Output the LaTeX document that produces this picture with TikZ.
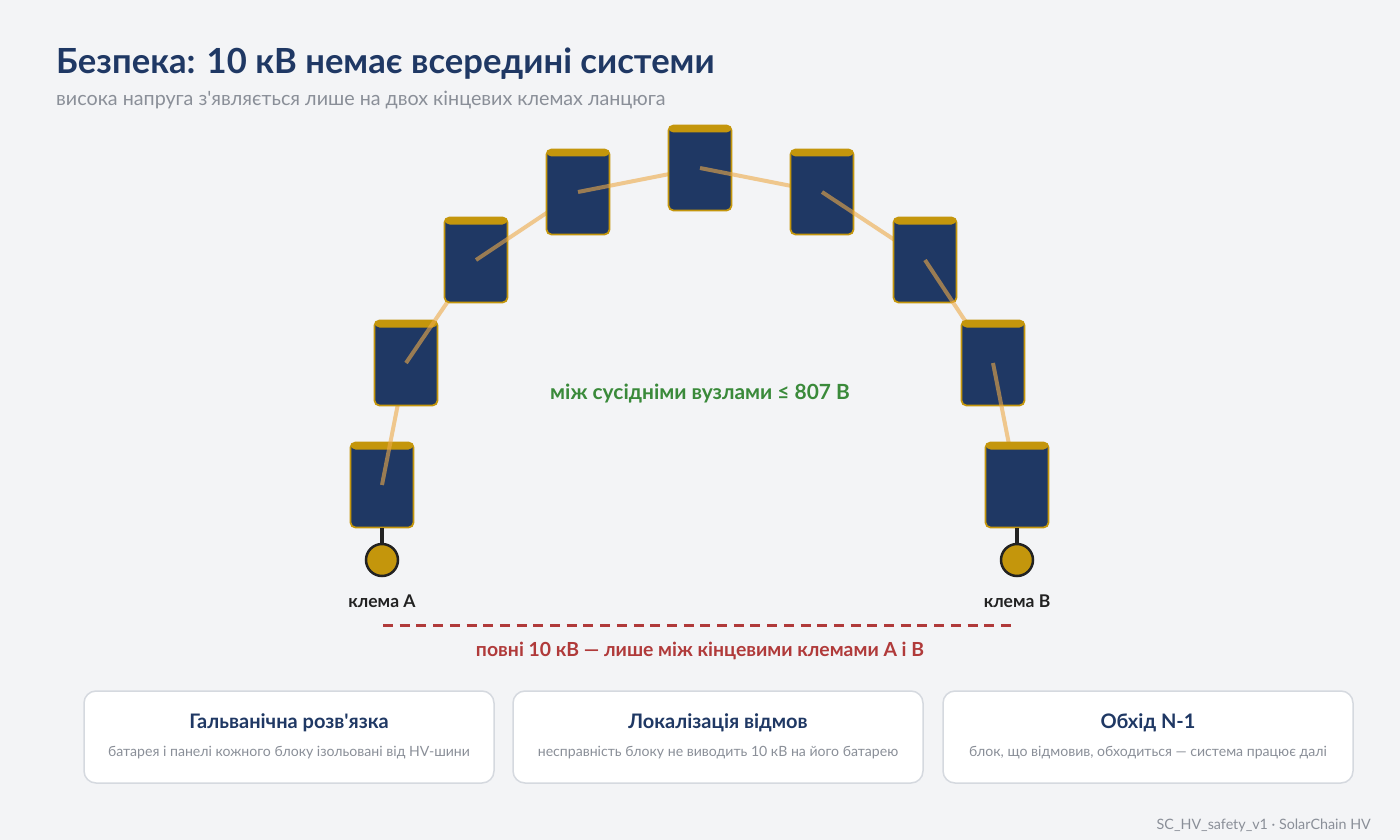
\documentclass[tikz,border=0pt]{standalone}
\usepackage{fontspec}
\setmainfont{Lato}
\usetikzlibrary{positioning}
\definecolor{navy}{HTML}{1F3864}
\definecolor{gold}{HTML}{C4960C}
\definecolor{linkc}{HTML}{EDAA48}
\definecolor{hvred}{HTML}{B03A3A}
\definecolor{okgreen}{HTML}{3A8A3A}
\definecolor{muted}{HTML}{8A8F98}
\definecolor{bgcol}{HTML}{F3F4F6}
\definecolor{rim}{HTML}{D5D9DF}
\definecolor{ink}{HTML}{222222}
\tikzset{
  blk/.style   = {rectangle, rounded corners=5pt, draw=gold, line width=1.8pt,
                  fill=navy, minimum width=63pt, minimum height=85pt, inner sep=0pt,
                  path picture={\fill[gold] (path picture bounding box.north west)
                    rectangle ([yshift=-7pt]path picture bounding box.north east);}},
  link/.style  = {linkc, line width=4pt, opacity=0.6},
  term/.style  = {circle, draw=ink, line width=2.5pt, fill=gold, minimum size=32pt, inner sep=0pt},
  stem/.style  = {ink, line width=4pt},
  lbl/.style   = {ink, font=\fontsize{17.5}{21}\selectfont\bfseries},
  hvdash/.style= {hvred, line width=3pt, dash pattern=on 10pt off 6.7pt},
  card/.style  = {rectangle, rounded corners=12pt, draw=rim, line width=1.5pt,
                  fill=white, minimum width=410pt, minimum height=92pt},
  ctitle/.style= {navy, font=\fontsize{20}{24}\selectfont\bfseries},
  csub/.style  = {muted, font=\fontsize{14.1}{17}\selectfont},
}

\begin{document}
\begin{tikzpicture}[x=1pt, y=-1pt]
    \fill[bgcol] (0,0) rectangle (1400,840);
    % heading
    \node[anchor=base west, navy, font=\fontsize{34.6}{40}\selectfont\bfseries, inner sep=0pt]
      (title) at (56,74) {Безпека: 10 кВ немає всередині системи};
    \node[anchor=base west, muted, font=\fontsize{19.7}{23}\selectfont, inner sep=0pt]
      (subtitle) at (56,106) {висока напруга з\textquotesingle являється лише на двох кінцевих клемах ланцюга};
    % chain of blocks
    \foreach \n/\x/\y in {1/382/485, 2/406/363, 3/476/260, 4/578/192, 5/700/168,
                          6/822/192, 7/925/260, 8/993/363, 9/1017/485}
      \coordinate (c\n) at (\x,\y);
    \foreach \n [evaluate=\n as \m using int(\n+1)] in {1,...,8} {
      \node[blk] (b\n) at (c\n) {};
      \draw[link] (c\n) -- (c\m);
    }
    \node[blk] (b9) at (c9) {};
    % terminals
    \node[term] (tA) at (382,560) {};
    \node[term] (tB) at (1017,560) {};
    \draw[stem] (b1.south) -- (tA.north);
    \draw[stem] (b9.south) -- (tB.north);
    \node[lbl] (lA) at (382,601) {клема A};
    \node[lbl] (lB) at (1017,601) {клема B};
    % voltages
    \node[okgreen, font=\fontsize{20.9}{25}\selectfont\bfseries] (near) at (700,394)
      {між сусідніми вузлами ≤ 807 В};
    \coordinate (dA) at (383,625);
    \coordinate (dB) at (1017,625);
    \draw[hvdash] (dA) -- (dB);
    \node[hvred, font=\fontsize{19.4}{23}\selectfont\bfseries] (full) at (700,651)
      {повні 10 кВ — лише між кінцевими клемами A і B};
    % cards
    \node[card] (k1) at (289,737) {};
    \node[card] (k2) at (718,737) {};
    \node[card] (k3) at (1148,737) {};
    \node[ctitle] (k1t) at (289,723) {Гальванічна розв\textquotesingle язка};
    \node[csub]   (k1s) at (289,753) {батарея і панелі кожного блоку ізольовані від HV-шини};
    \node[ctitle] (k2t) at (718,723) {Локалізація відмов};
    \node[csub]   (k2s) at (718,753) {несправність блоку не виводить 10 кВ на його батарею};
    \node[ctitle] (k3t) at (1148,723) {Обхід N-1};
    \node[csub]   (k3s) at (1148,753) {блок, що відмовив, обходиться — система працює далі};
    % footer
    \node[anchor=base east, muted, font=\fontsize{14.3}{17}\selectfont, inner sep=0pt]
      (foot) at (1371,829) {SC\_HV\_safety\_v1 · SolarChain HV};
\end{tikzpicture}
\end{document}
